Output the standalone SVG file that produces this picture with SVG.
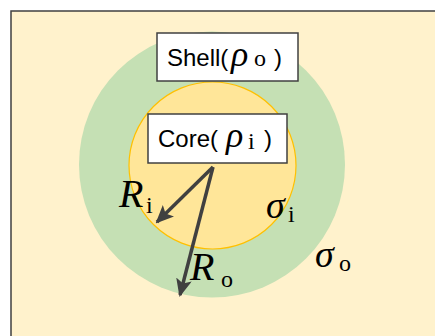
<svg xmlns="http://www.w3.org/2000/svg" width="435" height="336" viewBox="0 0 435 336">
<defs>
<style>
.box{fill:#ffffff;stroke:#404040;stroke-width:1.5}
.lbl{font-family:"Liberation Sans","Open Sans",sans-serif;font-size:24px;fill:#000}
.math{font-family:"Liberation Serif","DejaVu Serif",serif;fill:#000}
.it{font-style:italic}
.arrow{stroke:#404040;stroke-width:3.5;fill:none}
</style>
<marker id="ah" markerUnits="userSpaceOnUse" markerWidth="18" markerHeight="16" refX="16" refY="8" orient="auto">
<path d="M0,0 L18,8 L0,16 L4,8 Z" fill="#404040"/>
</marker>
</defs>
<rect x="0" y="0" width="435" height="336" fill="#ffffff"/>
<rect x="11" y="11" width="440" height="340" fill="#fff2cc" stroke="#404040" stroke-width="1.5"/>
<g id="shell">
<circle cx="212" cy="164.5" r="133" fill="#c5e0b4"/>
</g>
<g id="core">
<circle cx="212.5" cy="165.5" r="83.5" fill="#ffe699" stroke="#ffc000" stroke-width="1.2"/>
</g>
<g id="shell-label">
<rect class="box" x="157" y="33" width="141" height="48"/>
<text class="lbl" x="167" y="66">Shell(</text>
<text class="math it" x="231" y="66" font-size="36">ρ</text>
<text class="math" x="254" y="66" font-size="24">o</text>
<text class="lbl" x="274" y="66">)</text>
</g>
<g id="core-label">
<rect class="box" x="148" y="114" width="139" height="49"/>
<text class="lbl" x="158" y="147">Core(</text>
<text class="math it" x="226" y="147" font-size="36">ρ</text>
<text class="math" x="248" y="149" font-size="24">i</text>
<text class="lbl" x="264" y="147">)</text>
</g>
<g id="connectors">
<line class="arrow" x1="213" y1="167" x2="157" y2="222" marker-end="url(#ah)"/>
<line class="arrow" x1="213" y1="167" x2="180" y2="295" marker-end="url(#ah)"/>
</g>
<g id="labels">
<text class="math it" x="119" y="207" font-size="40">R</text>
<text class="math" x="146" y="213" font-size="24">i</text>
<text class="math it" x="190" y="280" font-size="40">R</text>
<text class="math" x="221" y="287" font-size="24">o</text>
<text class="math it" x="266" y="218" font-size="38">σ</text>
<text class="math" x="288" y="222" font-size="24">i</text>
<text class="math it" x="315" y="267" font-size="38">σ</text>
<text class="math" x="339" y="271" font-size="24">o</text>
</g>
</svg>
